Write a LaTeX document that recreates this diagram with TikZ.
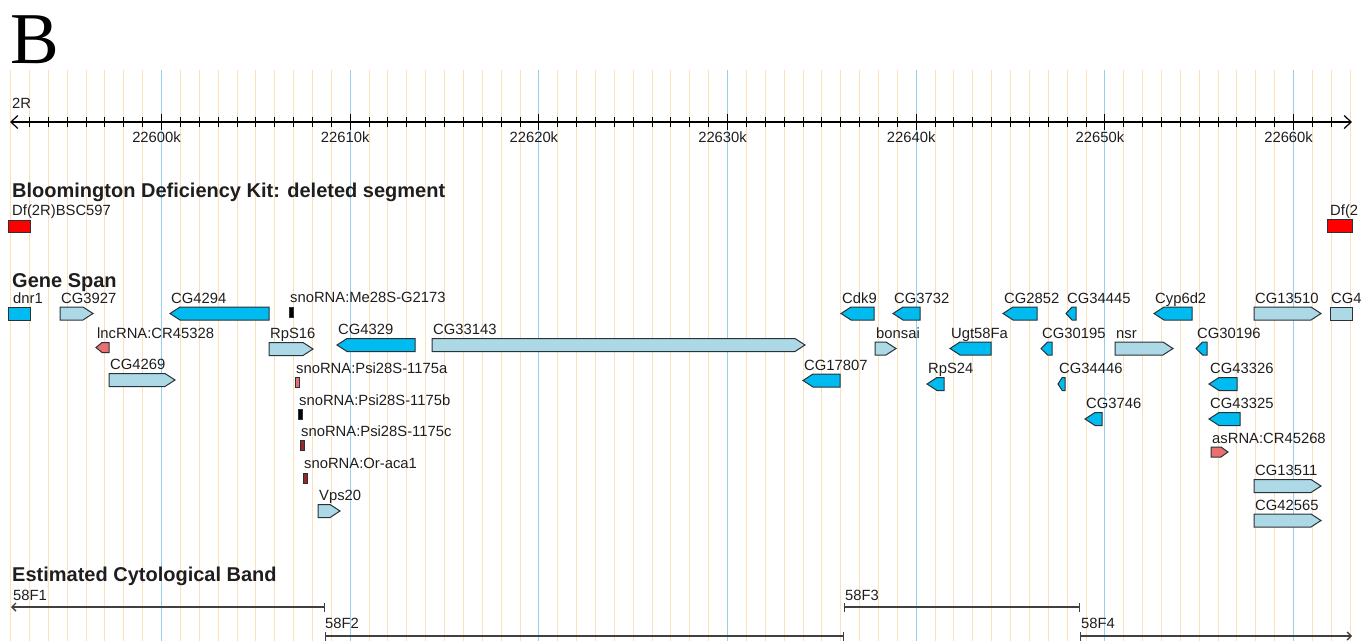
\documentclass[tikz,border=0pt]{standalone}
\usepackage{fontspec}
\setmainfont{Liberation Sans}
\newfontfamily\panelfont{Liberation Serif}
\usetikzlibrary{arrows.meta}

\definecolor{gridorange}{RGB}{251,224,184}
\definecolor{gridblue}{RGB}{150,208,238}
\definecolor{plusgene}{RGB}{173,216,230}
\definecolor{minusgene}{RGB}{0,187,240}
\definecolor{ncrna}{RGB}{232,112,112}
\definecolor{snodark}{RGB}{150,40,40}
\definecolor{outline}{RGB}{40,50,55}
\definecolor{labtext}{RGB}{30,30,30}

\tikzset{
  lab/.style={anchor=base west, inner sep=0pt, text=labtext, font=\fontsize{14.8}{17}\selectfont},
  track/.style={anchor=base west, inner sep=0pt, text=labtext, font=\bfseries\fontsize{20}{23}\selectfont},
  feat/.style={draw=outline, line width=1pt, line join=miter},
  band/.style={draw=black!75, line width=1.4pt},
}

\begin{document}
\begin{tikzpicture}[x=1pt,y=-1pt]
\useasboundingbox (0,0) rectangle (1363,641);

% kb grid
\foreach \k in {0,...,71}
  \draw[gridorange, line width=1pt] ({10.6+\k*18.867},70) -- ++(0,571);
\foreach \k in {8,18,...,68}
  \draw[gridblue, line width=1.2pt] ({10.6+\k*18.867},70) -- ++(0,571);

\node[anchor=base west, inner sep=0pt, font=\panelfont\fontsize{73}{73}\selectfont] (panel) at (10,63) {B};

% chromosome axis
\node[lab] (chrom) at (12,108) {2R};
\coordinate (ax-w) at (10,122);
\coordinate (ax-e) at (1352,122);
\draw[line width=1.2pt, {Straight Barb[length=7pt,width=13pt]}-{Straight Barb[length=7pt,width=13pt]}] (ax-w) -- (ax-e);
\foreach \k in {1,...,70}
  \draw[line width=1pt] ({10.6+\k*18.867},117) -- ++(0,10);
\foreach \k/\v in {8/22600,18/22610,28/22620,38/22630,48/22640,58/22650,68/22660} {
  \draw[line width=1.2pt] ({10.6+\k*18.867},114) -- ++(0,16);
  \node[lab, anchor=base] (t\v) at ({10.6+\k*18.867-5},142) {\v k};
}

% deficiency track
\node[track] (deftitle) at (12,197) {Bloomington Deficiency Kit: deleted segment};
\draw[feat, fill=red] (8,220) rectangle (30,232);
\node[lab] (df1) at (12,215) {Df(2R)BSC597};
\draw[feat, fill=red] (1327,219) rectangle (1352,232);
\node[lab] (df2) at (1330,215) {Df(2};

% gene span track
\node[track] (genetitle) at (12,287) {Gene Span};
\draw[feat, fill=minusgene] (8,307) rectangle (30,320);
\node[lab] (dnr1) at (13,303) {dnr1};
\draw[feat, fill=plusgene] (1330,307) rectangle (1352,320);
\node[lab] (cg4) at (1331,303) {CG4};

% plus strand
\foreach \xa/\xb/\yc/\txt [count=\i] in {
    60/93/313.5/CG3927, 269/313/349/RpS16, 432/805/345/CG33143,
    109/175/380/CG4269, 318/340/511/Vps20, 875/896/348.5/bonsai,
    1115/1173/348.5/nsr, 1254/1321/313.5/CG13510,
    1254/1321/486/CG13511, 1254/1321/520.5/CG42565} {
  \pgfmathsetmacro{\hd}{min(10,0.6*(\xb-\xa))}
  \draw[feat, fill=plusgene] (\xa,\yc-6.5) -- (\xb-\hd,\yc-6.5) -- (\xb,\yc)
    -- (\xb-\hd,\yc+6.5) -- (\xa,\yc+6.5) -- cycle;
  \node[lab] (fwd\i) at (\xa+1,\yc-10.5) {\txt};
}

% minus strand
\foreach \xa/\xb/\yc/\txt [count=\i] in {
    170/269/313.5/CG4294, 337/415/345/CG4329, 841/874/313.5/Cdk9,
    893/920/313.5/CG3732, 1003/1037/313.5/CG2852, 1066/1076/313.5/CG34445,
    1154/1192/313.5/Cyp6d2, 803/840/380.5/CG17807, 950/991/348.5/Ugt58Fa,
    927/944/384/RpS24, 1041/1052/348.5/CG30195, 1058/1065/384/CG34446,
    1085/1102/419/CG3746, 1196/1207/348.5/CG30196,
    1209/1237/384/CG43326, 1209/1240/419/CG43325} {
  \pgfmathsetmacro{\hd}{min(10,0.6*(\xb-\xa))}
  \draw[feat, fill=minusgene] (\xb,\yc-6.5) -- (\xa+\hd,\yc-6.5) -- (\xa,\yc)
    -- (\xa+\hd,\yc+6.5) -- (\xb,\yc+6.5) -- cycle;
  \node[lab] (rev\i) at (\xa+1,\yc-10.5) {\txt};
}

% non-coding RNA
\draw[feat, fill=ncrna] (109,342.5) -- (102,342.5) -- (96,347.5) -- (102,352.5) -- (109,352.5) -- cycle;
\node[lab] (lnc) at (97,338.5) {lncRNA:CR45328};
\draw[feat, fill=ncrna] (1211,447) -- (1221,447) -- (1228,452) -- (1221,457) -- (1211,457) -- cycle;
\node[lab] (asrna) at (1212,443) {asRNA:CR45268};
\foreach \xa/\yc/\col/\txt [count=\i] in {
    289/312/black/snoRNA:Me28S-G2173, 295/382.5/ncrna/snoRNA:Psi28S-1175a,
    298/414.5/black/snoRNA:Psi28S-1175b, 300/445.5/snodark/snoRNA:Psi28S-1175c,
    303/478/snodark/snoRNA:Or-aca1} {
  \draw[feat, fill=\col] (\xa,\yc-5) rectangle ++(4.5,10);
  \node[lab] (sno\i) at (\xa+1,\yc-9.5) {\txt};
}

% cytological bands
\node[track] (bandtitle) at (12,581) {Estimated Cytological Band};
\coordinate (f1w) at (11,607);   \coordinate (f1e) at (325,607);
\coordinate (f2w) at (325,636);  \coordinate (f2e) at (844,636);
\coordinate (f3w) at (844,607);  \coordinate (f3e) at (1080,607);
\coordinate (f4w) at (1080,636); \coordinate (f4e) at (1352,636);
\draw[band, {Straight Barb[length=4pt,width=8pt]}-{Bar[width=9pt]}] (f1w) -- (f1e);
\draw[band, {Bar[width=9pt]}-{Bar[width=9pt]}] (f2w) -- (f2e);
\draw[band, {Bar[width=9pt]}-{Bar[width=9pt]}] (f3w) -- (f3e);
\draw[band, {Bar[width=9pt]}-{Straight Barb[length=4pt,width=8pt]}] (f4w) -- (f4e);
\node[lab] (b58F1) at (13,600) {58F1};
\node[lab] (b58F2) at (325,628) {58F2};
\node[lab] (b58F3) at (845,600) {58F3};
\node[lab] (b58F4) at (1081,628) {58F4};
\end{tikzpicture}
\end{document}
